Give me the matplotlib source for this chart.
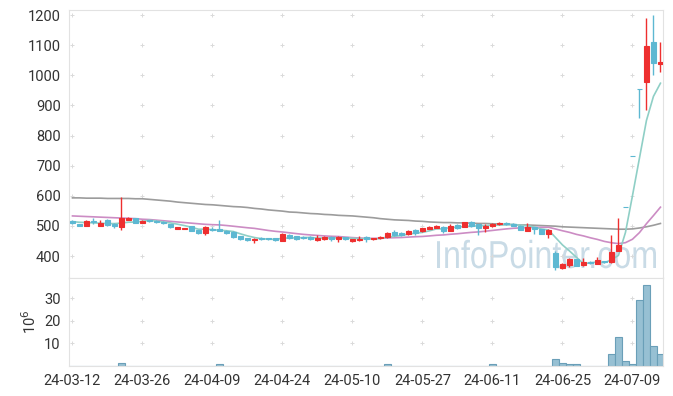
import numpy as np
import matplotlib
matplotlib.use("Agg")
import matplotlib.pyplot as plt
from matplotlib.textpath import TextPath
from matplotlib.patches import PathPatch
from matplotlib.font_manager import FontProperties
from matplotlib.transforms import Affine2D, IdentityTransform

plt.rcParams['font.family'] = ['Roboto', 'DejaVu Sans']

# 일별 시세 (24-03-12 ~ 24-07-15, 85 거래일)
opens = [515, 505, 501, 515, 501, 520, 507, 497, 521, 525,
         510, 519, 516, 514, 505, 491, 491, 498, 486, 475,
         490, 488, 484, 481, 466, 459, 452, 461, 459, 459,
         451, 470, 466, 464, 464, 454, 456, 464, 456, 462,
         450, 453, 462, 455, 459, 462, 479, 476, 472, 486,
         483, 491, 494, 496, 484, 503, 497, 512, 505, 494,
         499, 505, 510, 507, 501, 484, 496, 490, 472, 410,
         361, 370, 390, 370, 381, 375, 383, 379, 418, 564,
         733, 953, 978, 1109, 1036]
highs = [518, 507, 519, 525, 521, 522, 509, 597, 529, 527,
         518, 520, 518, 516, 507, 497, 494, 500, 487, 498,
         496, 519, 486, 482, 467, 461, 460, 463, 461, 461,
         475, 472, 468, 466, 466, 471, 466, 465, 468, 464,
         457, 466, 465, 461, 466, 480, 487, 479, 486, 488,
         494, 498, 504, 498, 505, 505, 514, 517, 507, 506,
         509, 512, 512, 509, 503, 510, 497, 491, 488, 418,
         378, 393, 391, 395, 383, 398, 385, 470, 525, 564,
         733, 953, 1189, 1200, 1111]
lows = [505, 498, 498, 505, 500, 501, 494, 486, 518, 508,
        508, 514, 510, 507, 494, 489, 489, 482, 474, 470,
        483, 482, 472, 460, 453, 450, 444, 452, 454, 451,
        449, 458, 452, 457, 452, 449, 453, 450, 448, 452,
        448, 449, 446, 452, 457, 460, 468, 467, 470, 470,
        481, 489, 492, 478, 482, 490, 495, 497, 470, 480,
        497, 503, 504, 499, 485, 482, 472, 472, 461, 355,
        357, 365, 366, 367, 374, 373, 377, 377, 416, 564,
        733, 857, 885, 1001, 1012]
closes = [508, 500, 516, 512, 508, 503, 499, 525, 526, 510,
          516, 516, 512, 509, 496, 495, 493, 484, 477, 496,
          487, 484, 476, 463, 458, 453, 457, 456, 456, 453,
          473, 461, 458, 460, 457, 461, 464, 457, 464, 455,
          455, 458, 455, 459, 464, 478, 470, 469, 484, 477,
          492, 496, 501, 484, 501, 494, 512, 501, 494, 501,
          507, 510, 506, 501, 487, 496, 490, 474, 486, 362,
          372, 390, 368, 381, 376, 386, 379, 414, 436, 564,
          733, 953, 1097, 1040, 1045]
# 거래량 (백만 주)
volume = [0.1, 0.1, 0.1, 0.1, 0.1, 0.1, 0.1, 1.5, 0.2, 0.1,
          0.1, 0.1, 0.1, 0.1, 0.1, 0.1, 0.1, 0.1, 0.1, 0.1,
          0.1, 0.7, 0.1, 0.1, 0.1, 0.1, 0.1, 0.1, 0.1, 0.1,
          0.1, 0.1, 0.1, 0.1, 0.1, 0.1, 0.1, 0.1, 0.1, 0.1,
          0.1, 0.1, 0.1, 0.1, 0.1, 0.7, 0.1, 0.1, 0.1, 0.1,
          0.1, 0.1, 0.1, 0.1, 0.1, 0.1, 0.1, 0.1, 0.1, 0.1,
          0.7, 0.1, 0.1, 0.1, 0.1, 0.1, 0.1, 0.1, 0.1, 3.3,
          1.2, 0.7, 0.7, 0.2, 0.2, 0.2, 0.2, 5.5, 12.9, 2.0,
          0.7, 29.1, 35.8, 9.0, 5.5]
# 이동평균선
ma5 = [514, 512, 511, 510, 508.8, 507.8, 507.6, 509.4, 512.2, 512.6,
       515.2, 518.6, 516, 512.6, 509.8, 505.6, 501, 495.4, 489, 489,
       487.4, 485.6, 484, 481.2, 473.6, 466.8, 461.4, 457.4, 456, 455,
       459, 459.8, 460.2, 461, 461.8, 459.4, 460, 459.8, 460.6, 460.2,
       459, 457.8, 457.4, 456.4, 458.2, 462.8, 465.2, 468, 473, 475.6,
       478.4, 483.6, 490, 490, 494.8, 495.2, 498.4, 498.4, 500.4, 500.4,
       503, 502.6, 503.6, 505, 502.2, 500, 496, 489.6, 486.6, 461.6,
       436.8, 416.8, 395.6, 374.6, 377.4, 380.2, 378, 387.2, 402, 478,
       600, 725, 850, 930, 973.6]
ma20 = [533, 532, 531, 530, 529, 528, 527, 526, 525, 524,
        522, 521, 519, 517, 515, 513, 511, 509, 507, 505.1,
        504, 503.2, 501.2, 498.8, 496.3, 493.8, 491.7, 488.2, 484.7, 481.9,
        479.7, 477, 474.3, 471.8, 469.9, 468.2, 466.7, 465.4, 464.7, 462.7,
        461.1, 459.8, 458.7, 458.5, 458.8, 460.1, 460.7, 461.4, 462.8, 464,
        464.9, 466.7, 468.8, 470, 472.2, 473.9, 476.3, 478.5, 480, 482.3,
        484.9, 487.5, 490, 492.1, 493.3, 494.2, 495.2, 495.4, 495.5, 489.8,
        483.8, 478.5, 471.8, 466.7, 460.4, 455, 448.4, 444, 441.1, 444.3,
        455.6, 477.7, 507.3, 534.2, 562.1]
ma120 = [593, 593, 592, 592, 592, 591, 591, 591, 591, 590,
         590, 588, 586, 584, 582, 579, 577, 575, 573, 571,
         570, 568, 566, 564, 563, 561, 558, 556, 553, 551,
         549, 546, 545, 543, 541, 540, 538, 537, 535, 534,
         533, 531, 529, 527, 524, 522, 520, 519, 518, 516,
         515, 513, 512, 511, 511, 510, 510, 509, 508, 508,
         507, 506, 505, 504, 503, 503, 502, 501, 500, 499,
         497, 496, 495, 494, 493, 492, 491, 490, 489, 489,
         490, 493, 497, 502, 508]
tick_labels = ['24-03-12', '24-03-26', '24-04-09', '24-04-24', '24-05-10',
               '24-05-27', '24-06-11', '24-06-25', '24-07-09']

UP = '#ee2f2f'
DOWN = '#5db8d2'
TXT = '#333333'
EDGE = '#e2e2e2'

x = np.arange(len(closes))
o = np.array(opens)
c = np.array(closes)
colors = [UP if cl > op else DOWN for op, cl in zip(o, c)]

fig = plt.figure(figsize=(6.73, 3.96), dpi=100)
ax = fig.add_axes([0.1025, 0.298, 0.8826, 0.677])
axv = fig.add_axes([0.1025, 0.0758, 0.8826, 0.2222], sharex=ax)

# 워터마크: 좁은 글꼴 느낌이 나도록 가로로 눌러서 그림
tp = TextPath((0, 0), 'InfoPointer.com', size=1,
              prop=FontProperties(family='Liberation Sans'))
ext = tp.get_extents()
sx = 219 / ext.width
sy = 39
wm = PathPatch(tp, transform=Affine2D().scale(sx, sy).translate(437 - ext.x0 * sx, 128)
               + IdentityTransform(),
               facecolor='#c9dbe6', edgecolor='none', zorder=0)
wm.set_clip_on(False)
ax.add_artist(wm)

# 이동평균
ax.plot(x, ma120, color='#9c9c9c', lw=1.2, zorder=2)
ax.plot(x, ma20, color='#cc8cc4', lw=1.2, zorder=2)
ax.plot(x, ma5, color='#8fcfc6', lw=1.2, zorder=2)

# 캔들
ax.vlines(x, lows, highs, colors=colors, lw=1, zorder=3)
ax.bar(x, np.abs(c - o), bottom=np.minimum(o, c), width=0.62,
       color=colors, edgecolor=colors, linewidth=0.8, zorder=4)

ax.set_ylim(327, 1217)
ax.set_yticks(range(400, 1201, 100))
ax.set_xlim(-0.5, 84.36)

# 거래량
axv.bar(x, volume, width=0.95, color='#97c0d3', edgecolor='#6a9fb8', linewidth=0.8)
axv.set_ylim(0, 39)
axv.set_yticks([10, 20, 30])
axv.set_ylabel('10$^6$', color=TXT, fontsize=10.5, labelpad=4)

xt = list(range(0, 81, 10))
axv.set_xticks(xt)
axv.set_xticklabels(tick_labels)

for a in (ax, axv):
    a.tick_params(length=0, labelsize=10.5, colors=TXT, pad=6)
    for s in a.spines.values():
        s.set_color(EDGE)
        s.set_linewidth(0.8)
    # 격자 + 표시
    gx, gy = np.meshgrid(xt, a.get_yticks())
    a.scatter(gx.ravel(), gy.ravel(), marker='+', s=12, color='#dadada',
              linewidths=0.7, zorder=1)
ax.tick_params(labelbottom=False)

fig.savefig('out.png', dpi=100)
